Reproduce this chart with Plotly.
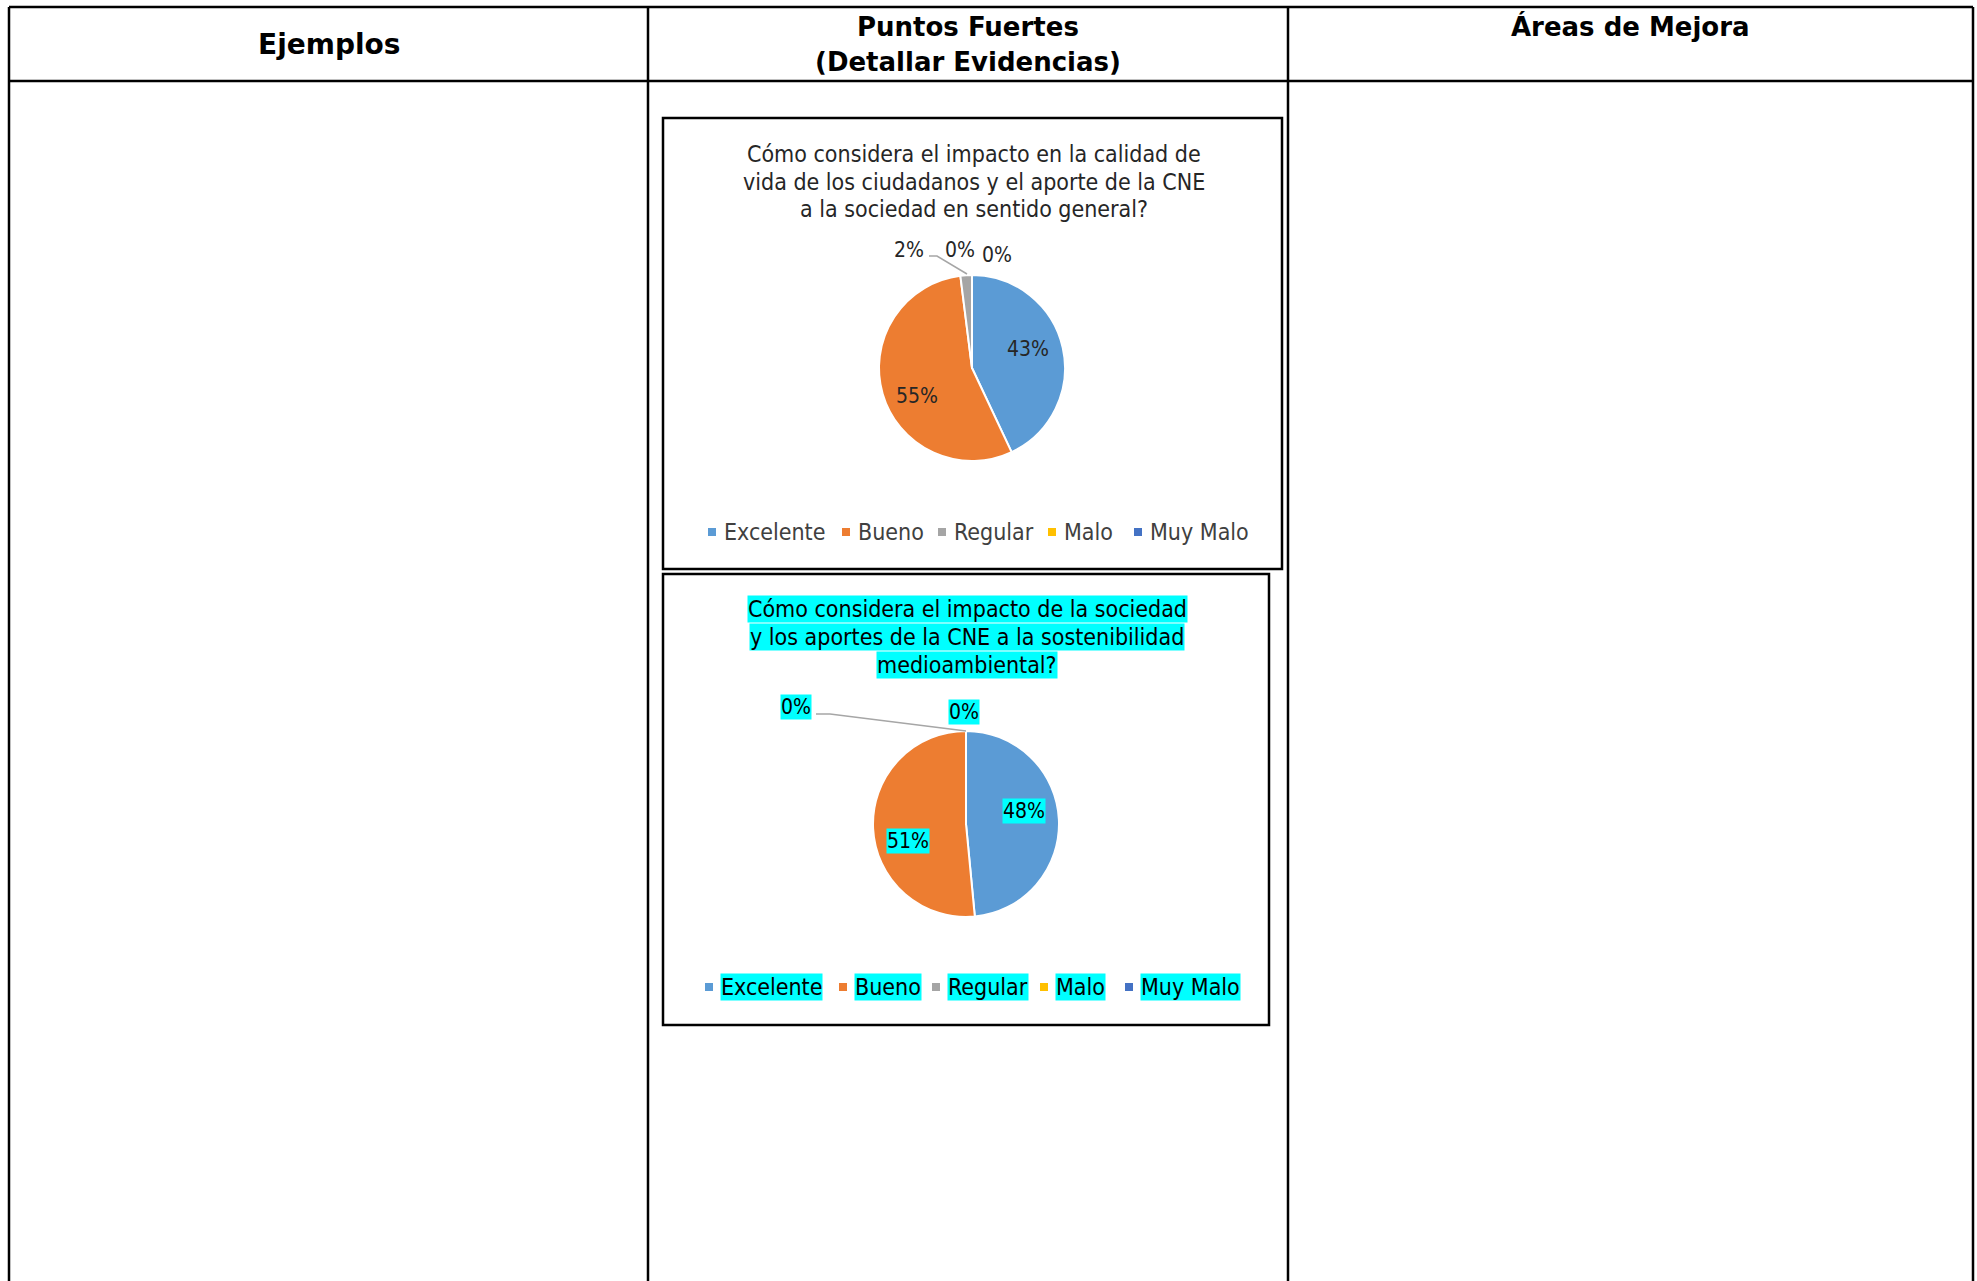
import math
import plotly.graph_objects as go

W, H = 1977, 1281

# ---------------- data ----------------
header_ejemplos = "Ejemplos"
header_puntos = ["Puntos Fuertes", "(Detallar Evidencias)"]
header_areas = "Áreas de Mejora"

categories = ["Excelente", "Bueno", "Regular", "Malo", "Muy Malo"]

title1_lines = ["Cómo considera el impacto en la calidad de",
                "vida de los ciudadanos y el aporte de la CNE",
                "a la sociedad en sentido general?"]
values1 = [43, 55, 2, 0, 0]

title2_lines = ["Cómo considera el impacto de la sociedad",
                "y los aportes de la CNE a la sostenibilidad",
                "medioambiental?"]
values2 = [48, 51, 0, 0, 0]

# ---------------- styles / layout constants ----------------
colors = ["#5B9BD5", "#ED7D31", "#A5A5A5", "#FFC000", "#4472C4"]
HILITE = "#00FFFF"
CH_FONT = "DejaVu Sans Condensed, DejaVu Sans, sans-serif"
HD_FONT = "DejaVu Sans, sans-serif"
TITLE_SIZE, LABEL_SIZE, LEGEND_SIZE = 23, 21, 23


def px(x):
    return x / W


def py(y):
    return 1 - y / H


charts = [
    dict(values=values1, titles=title1_lines, box=(663, 118, 1282, 569),
         center=(972, 368), r=93, title_y=[154, 182, 209], legend_y=532,
         legend_x=[712, 846, 942, 1052, 1138], hilite=False, text_color="#262626",
         outside={2: (909, 250), 3: (960, 250), 4: (997, 255)},
         inside_dy=[-6, 12],
         leader=[(929, 256), (937, 256), (967, 274)]),
    dict(values=values2, titles=title2_lines, box=(663, 574, 1269, 1025),
         center=(966, 824), r=93, title_y=[609, 637, 665], legend_y=987,
         legend_x=[709, 843, 936, 1044, 1129], hilite=True, text_color="#000000",
         outside={2: (796, 707), 3: (964, 712)},
         inside_dy=[-10, 14],
         leader=[(816, 714), (830, 714), (966, 731)]),
]

fig = go.Figure()
shapes = []
annotations = []

# ---------------- table grid ----------------
TL, TR, TT, THB = 9, 1973, 7, 81
COLS = [648, 1288]
line = dict(color="black", width=2.5)
shapes.append(dict(type="line", xref="paper", yref="paper", x0=px(TL), x1=px(TR), y0=py(TT), y1=py(TT), line=line))
shapes.append(dict(type="line", xref="paper", yref="paper", x0=px(TL), x1=px(TR), y0=py(THB), y1=py(THB), line=line))
for x in [TL] + COLS + [TR]:
    shapes.append(dict(type="line", xref="paper", yref="paper", x0=px(x), x1=px(x), y0=py(TT), y1=py(H + 5), line=line))

hd_font = dict(family=HD_FONT, size=26, color="black", weight="bold")
annotations.append(dict(text=header_ejemplos, x=px((TL + COLS[0]) / 2), y=py(44), xref="paper", yref="paper",
                        showarrow=False, font=dict(hd_font, size=28), xanchor="center", yanchor="middle"))
for t, yy in zip(header_puntos, [27, 62]):
    annotations.append(dict(text=t, x=px((COLS[0] + COLS[1]) / 2), y=py(yy), xref="paper", yref="paper",
                            showarrow=False, font=hd_font, xanchor="center", yanchor="middle"))
annotations.append(dict(text=header_areas, x=px((COLS[1] + TR) / 2), y=py(26), xref="paper", yref="paper",
                        showarrow=False, font=hd_font, xanchor="center", yanchor="middle"))

# ---------------- charts ----------------
for c in charts:
    x0, y0, x1, y1 = c["box"]
    shapes.append(dict(type="rect", xref="paper", yref="paper", x0=px(x0), x1=px(x1), y0=py(y1), y1=py(y0),
                       line=dict(color="black", width=2.5), fillcolor="rgba(0,0,0,0)"))
    cx, cy = c["center"]
    r = c["r"]
    bg = HILITE if c["hilite"] else "rgba(0,0,0,0)"
    tc = c["text_color"]

    fig.add_trace(go.Pie(
        values=c["values"], labels=categories, sort=False, direction="clockwise", rotation=0,
        marker=dict(colors=colors, line=dict(color="white", width=2)),
        textinfo="none", hoverinfo="label+percent", showlegend=False,
        domain=dict(x=[px(cx - r), px(cx + r)], y=[py(cy + r), py(cy - r)]),
    ))

    # title lines
    mid = (x0 + x1) / 2 + 1
    for t, yy in zip(c["titles"], c["title_y"]):
        annotations.append(dict(text=t, x=px(mid), y=py(yy), xref="paper", yref="paper", showarrow=False,
                                font=dict(family=CH_FONT, size=TITLE_SIZE, color=tc), bgcolor=bg, borderpad=0,
                                xanchor="center", yanchor="middle"))

    # data labels
    total = sum(c["values"])
    cum = 0
    for i, v in enumerate(c["values"]):
        ang = math.radians((cum + v / 2) / total * 360)
        cum += v
        if i in c["outside"]:
            lx, ly = c["outside"][i]
        elif v > 0:
            lx = cx + 0.62 * r * math.sin(ang)
            ly = cy - 0.62 * r * math.cos(ang) + c["inside_dy"][i]
        else:
            continue
        annotations.append(dict(text=f"{v}%", x=px(lx), y=py(ly), xref="paper", yref="paper", showarrow=False,
                                font=dict(family=CH_FONT, size=LABEL_SIZE, color=tc), bgcolor=bg, borderpad=0,
                                xanchor="center", yanchor="middle"))

    # leader line
    path = "M " + " L ".join(f"{px(a)},{py(b)}" for a, b in c["leader"])
    shapes.append(dict(type="path", xref="paper", yref="paper", path=path,
                       line=dict(color="#A6A6A6", width=1.5)))

    # legend
    ly = c["legend_y"]
    for lab, col, mx in zip(categories, colors, c["legend_x"]):
        shapes.append(dict(type="rect", xref="paper", yref="paper", x0=px(mx - 4), x1=px(mx + 4),
                           y0=py(ly + 4), y1=py(ly - 4), fillcolor=col, line=dict(width=0)))
        annotations.append(dict(text=lab, x=px(mx + 11), y=py(ly), xref="paper", yref="paper", showarrow=False,
                                font=dict(family=CH_FONT, size=LEGEND_SIZE, color=tc if c["hilite"] else "#404040"),
                                bgcolor=bg, borderpad=0, xanchor="left", yanchor="middle"))

fig.update_layout(
    width=W, height=H, autosize=False,
    margin=dict(l=0, r=0, t=0, b=0),
    paper_bgcolor="white", plot_bgcolor="white",
    shapes=shapes, annotations=annotations,
)

fig.write_html("out.html", config={"displayModeBar": False},
               post_script="document.body.style.margin='0';document.body.style.overflow='hidden';")
